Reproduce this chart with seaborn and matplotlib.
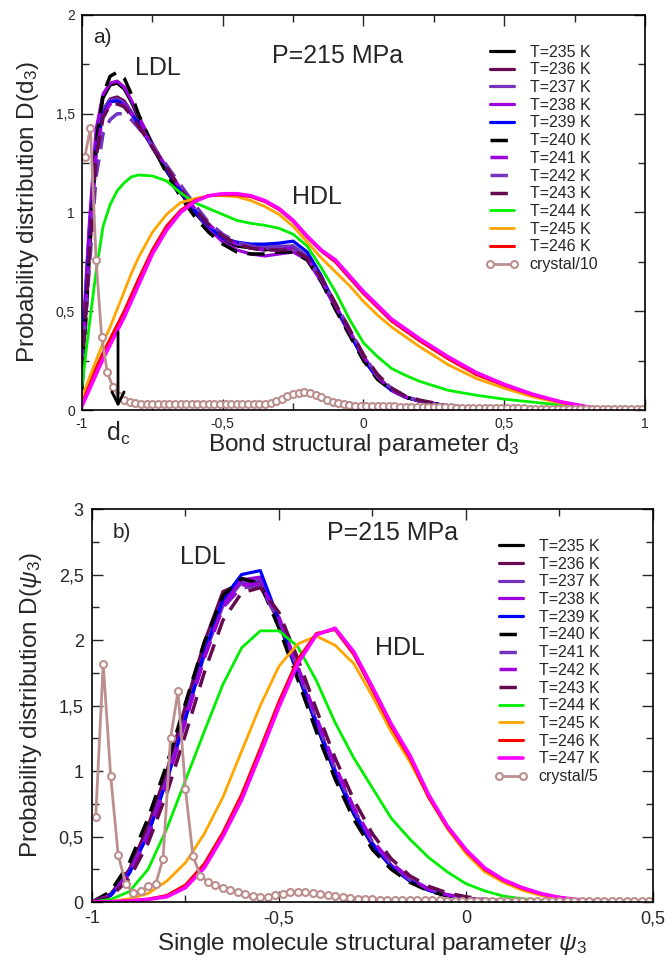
# Bond / single-molecule structural parameter distributions at P=215 MPa
import numpy as np
import matplotlib
matplotlib.use('Agg')
import matplotlib.pyplot as plt
from matplotlib.ticker import MultipleLocator, FuncFormatter
import seaborn as sns

# ---------------- panel a) : D(d3) ----------------
xa = [-1, -0.975, -0.95, -0.925, -0.9, -0.875, -0.85, -0.825, -0.8, -0.75, -0.7, -0.65,
      -0.6, -0.55, -0.5, -0.45, -0.4, -0.35, -0.3, -0.25, -0.2, -0.15, -0.1, -0.05,
      0, 0.05, 0.1, 0.15, 0.2, 0.3, 0.4, 0.5, 0.6, 0.7, 0.8, 0.9, 1.0]
a_235 = [0.25, 0.88, 1.38, 1.58, 1.645, 1.655, 1.625, 1.56, 1.48, 1.33, 1.21, 1.10, 1.00, 0.92, 0.86, 0.83, 0.82, 0.81, 0.82, 0.83, 0.77, 0.66, 0.52, 0.39, 0.26, 0.16, 0.10, 0.065, 0.045, 0.02, 0.01, 0.005, 0.002, 0.001, 0, 0, 0]
a_236 = [0.22, 0.82, 1.32, 1.52, 1.575, 1.585, 1.565, 1.51, 1.45, 1.33, 1.22, 1.11, 1.01, 0.93, 0.87, 0.84, 0.83, 0.82, 0.82, 0.82, 0.77, 0.66, 0.53, 0.40, 0.27, 0.17, 0.10, 0.065, 0.045, 0.02, 0.01, 0.005, 0.002, 0.001, 0, 0, 0]
a_237 = [0.24, 0.84, 1.33, 1.52, 1.57, 1.575, 1.555, 1.51, 1.45, 1.33, 1.22, 1.11, 1.01, 0.93, 0.87, 0.84, 0.83, 0.83, 0.83, 0.83, 0.78, 0.66, 0.52, 0.39, 0.26, 0.16, 0.10, 0.065, 0.045, 0.02, 0.01, 0.005, 0.002, 0.001, 0, 0, 0]
a_238 = [0.30, 0.92, 1.42, 1.60, 1.655, 1.665, 1.635, 1.57, 1.49, 1.35, 1.22, 1.11, 1.01, 0.92, 0.85, 0.81, 0.79, 0.78, 0.79, 0.80, 0.76, 0.65, 0.52, 0.39, 0.26, 0.16, 0.10, 0.065, 0.045, 0.02, 0.01, 0.005, 0.002, 0.001, 0, 0, 0]
a_239 = [0.24, 0.82, 1.31, 1.50, 1.56, 1.565, 1.545, 1.50, 1.45, 1.33, 1.22, 1.11, 1.01, 0.93, 0.87, 0.85, 0.84, 0.84, 0.845, 0.855, 0.80, 0.68, 0.53, 0.39, 0.26, 0.16, 0.10, 0.065, 0.045, 0.02, 0.01, 0.005, 0.002, 0.001, 0, 0, 0]
a_240 = [0.10, 0.75, 1.35, 1.60, 1.69, 1.71, 1.68, 1.60, 1.50, 1.34, 1.20, 1.08, 0.98, 0.90, 0.84, 0.80, 0.79, 0.79, 0.80, 0.80, 0.76, 0.65, 0.51, 0.38, 0.25, 0.155, 0.10, 0.065, 0.045, 0.02, 0.01, 0.005, 0.002, 0.001, 0, 0, 0]
a_241 = [0.22, 0.80, 1.30, 1.49, 1.55, 1.56, 1.545, 1.50, 1.45, 1.34, 1.23, 1.12, 1.02, 0.94, 0.88, 0.84, 0.82, 0.81, 0.81, 0.82, 0.77, 0.66, 0.53, 0.40, 0.27, 0.17, 0.10, 0.065, 0.045, 0.02, 0.01, 0.005, 0.002, 0.001, 0, 0, 0]
a_242 = [0.20, 0.70, 1.18, 1.40, 1.47, 1.50, 1.50, 1.47, 1.43, 1.34, 1.24, 1.14, 1.04, 0.95, 0.89, 0.85, 0.83, 0.82, 0.82, 0.82, 0.77, 0.67, 0.54, 0.41, 0.28, 0.17, 0.11, 0.07, 0.045, 0.02, 0.01, 0.005, 0.002, 0.001, 0, 0, 0]
a_243 = [0.18, 0.76, 1.28, 1.48, 1.545, 1.55, 1.535, 1.49, 1.44, 1.33, 1.23, 1.12, 1.02, 0.94, 0.88, 0.84, 0.82, 0.81, 0.81, 0.81, 0.77, 0.67, 0.54, 0.41, 0.28, 0.18, 0.11, 0.07, 0.05, 0.022, 0.012, 0.006, 0.003, 0.001, 0, 0, 0]
a_244 = [0.12, 0.42, 0.70, 0.93, 1.04, 1.11, 1.15, 1.18, 1.19, 1.185, 1.16, 1.10, 1.05, 1.02, 0.99, 0.96, 0.945, 0.935, 0.92, 0.89, 0.83, 0.72, 0.60, 0.46, 0.34, 0.27, 0.21, 0.175, 0.145, 0.10, 0.075, 0.055, 0.04, 0.025, 0.01, 0.003, 0]
a_245 = [0.06, 0.16, 0.25, 0.34, 0.42, 0.51, 0.60, 0.69, 0.77, 0.90, 0.99, 1.05, 1.07, 1.085, 1.085, 1.08, 1.06, 1.03, 0.99, 0.93, 0.85, 0.77, 0.70, 0.63, 0.55, 0.48, 0.42, 0.37, 0.32, 0.23, 0.16, 0.11, 0.067, 0.035, 0.012, 0.003, 0]
a_246 = [0.03, 0.12, 0.21, 0.29, 0.36, 0.43, 0.50, 0.58, 0.66, 0.81, 0.93, 1.01, 1.06, 1.085, 1.09, 1.09, 1.08, 1.055, 1.015, 0.955, 0.875, 0.805, 0.75, 0.67, 0.59, 0.52, 0.45, 0.40, 0.35, 0.26, 0.18, 0.125, 0.077, 0.04, 0.014, 0.004, 0]
a_247 = [0.02, 0.10, 0.18, 0.26, 0.33, 0.40, 0.47, 0.55, 0.63, 0.79, 0.91, 1.00, 1.055, 1.085, 1.095, 1.095, 1.085, 1.06, 1.02, 0.96, 0.88, 0.81, 0.76, 0.68, 0.60, 0.53, 0.46, 0.41, 0.36, 0.27, 0.19, 0.13, 0.08, 0.042, 0.015, 0.004, 0]

# crystal/10, bins of 0.02 (centres -0.99 ... 0.99)
xa_cry = [round(-0.99 + 0.02 * i, 2) for i in range(100)]
a_cry = [1.28, 1.43, 0.76, 0.37, 0.19, 0.115, 0.072, 0.05, 0.04, 0.035,
         0.032, 0.03, 0.03, 0.029, 0.029, 0.029, 0.03, 0.03, 0.03, 0.031,
         0.031, 0.032, 0.032, 0.031, 0.03, 0.03, 0.029, 0.029, 0.028, 0.028,
         0.028, 0.028, 0.03, 0.035, 0.045, 0.058, 0.07, 0.08, 0.087, 0.09,
         0.087, 0.078, 0.065, 0.05, 0.04, 0.033, 0.028, 0.025, 0.022, 0.021,
         0.02, 0.02, 0.019, 0.019, 0.018, 0.018, 0.017, 0.017, 0.016, 0.016,
         0.015, 0.015, 0.014, 0.014, 0.013, 0.013, 0.012, 0.012, 0.011, 0.011,
         0.01, 0.01, 0.01, 0.009, 0.009, 0.009, 0.008, 0.008, 0.008, 0.007,
         0.007, 0.007, 0.006, 0.006, 0.006, 0.006, 0.005, 0.005, 0.005, 0.005,
         0.005, 0.004, 0.004, 0.004, 0.004, 0.004, 0.003, 0.003, 0.003, 0.003]
d_c = -0.872

# ---------------- panel b) : D(psi3) ----------------
xb = [round(-1 + 0.05 * i, 2) for i in range(31)]
b_235 = [0.0, 0.06, 0.24, 0.55, 0.95, 1.42, 1.90, 2.28, 2.44, 2.45, 2.13, 1.74, 1.35, 0.98, 0.67, 0.43, 0.27, 0.16, 0.09, 0.05, 0.027, 0.014, 0.007, 0.003, 0.001, 0, 0, 0, 0, 0, 0]
b_236 = [0.0, 0.06, 0.25, 0.58, 1.00, 1.50, 1.98, 2.37, 2.43, 2.41, 2.14, 1.76, 1.37, 1.00, 0.69, 0.44, 0.28, 0.17, 0.095, 0.05, 0.028, 0.015, 0.007, 0.003, 0.001, 0, 0, 0, 0, 0, 0]
b_237 = [0.0, 0.05, 0.22, 0.52, 0.93, 1.40, 1.88, 2.26, 2.44, 2.46, 2.17, 1.78, 1.38, 1.01, 0.70, 0.45, 0.28, 0.17, 0.095, 0.05, 0.028, 0.015, 0.007, 0.003, 0.001, 0, 0, 0, 0, 0, 0]
b_238 = [0.0, 0.05, 0.23, 0.53, 0.94, 1.42, 1.90, 2.29, 2.46, 2.48, 2.16, 1.76, 1.37, 1.00, 0.69, 0.44, 0.28, 0.165, 0.09, 0.05, 0.027, 0.014, 0.007, 0.003, 0.001, 0, 0, 0, 0, 0, 0]
b_239 = [0.0, 0.05, 0.22, 0.52, 0.93, 1.40, 1.90, 2.31, 2.50, 2.53, 2.15, 1.75, 1.36, 0.99, 0.68, 0.44, 0.27, 0.16, 0.09, 0.05, 0.027, 0.014, 0.007, 0.003, 0.001, 0, 0, 0, 0, 0, 0]
b_240 = [0.0, 0.08, 0.30, 0.64, 1.05, 1.52, 1.98, 2.34, 2.47, 2.43, 2.09, 1.70, 1.30, 0.94, 0.63, 0.40, 0.25, 0.15, 0.085, 0.045, 0.025, 0.013, 0.006, 0.003, 0.001, 0, 0, 0, 0, 0, 0]
b_241 = [0.0, 0.05, 0.22, 0.52, 0.93, 1.40, 1.87, 2.25, 2.40, 2.41, 2.15, 1.78, 1.39, 1.02, 0.71, 0.46, 0.29, 0.17, 0.10, 0.055, 0.03, 0.016, 0.008, 0.004, 0.002, 0, 0, 0, 0, 0, 0]
b_242 = [0.0, 0.05, 0.21, 0.50, 0.91, 1.38, 1.86, 2.25, 2.42, 2.43, 2.17, 1.80, 1.41, 1.04, 0.72, 0.47, 0.30, 0.18, 0.10, 0.055, 0.03, 0.016, 0.008, 0.004, 0.002, 0, 0, 0, 0, 0, 0]
b_243 = [0.0, 0.04, 0.18, 0.45, 0.83, 1.28, 1.75, 2.15, 2.36, 2.40, 2.21, 1.86, 1.47, 1.10, 0.78, 0.52, 0.33, 0.20, 0.12, 0.07, 0.04, 0.02, 0.01, 0.005, 0.002, 0.001, 0, 0, 0, 0, 0]
b_244 = [0.0, 0.02, 0.08, 0.25, 0.56, 0.93, 1.30, 1.66, 1.94, 2.07, 2.07, 1.95, 1.69, 1.37, 1.10, 0.87, 0.64, 0.48, 0.34, 0.23, 0.14, 0.085, 0.045, 0.025, 0.012, 0.006, 0.003, 0.001, 0, 0, 0]
b_245 = [0.0, 0.005, 0.025, 0.065, 0.16, 0.30, 0.52, 0.80, 1.15, 1.50, 1.80, 1.97, 2.03, 1.96, 1.82, 1.57, 1.30, 1.07, 0.80, 0.56, 0.37, 0.23, 0.15, 0.09, 0.05, 0.025, 0.012, 0.006, 0.003, 0.001, 0]
b_246 = [0.0, 0.002, 0.009, 0.022, 0.05, 0.13, 0.29, 0.53, 0.82, 1.17, 1.53, 1.85, 2.05, 2.08, 1.89, 1.62, 1.34, 1.10, 0.80, 0.57, 0.39, 0.25, 0.165, 0.105, 0.062, 0.033, 0.017, 0.008, 0.004, 0.002, 0]
b_247 = [0.0, 0.002, 0.008, 0.02, 0.04, 0.11, 0.26, 0.50, 0.78, 1.13, 1.49, 1.82, 2.04, 2.09, 1.91, 1.64, 1.36, 1.12, 0.82, 0.58, 0.40, 0.26, 0.17, 0.11, 0.065, 0.035, 0.018, 0.008, 0.004, 0.002, 0]

# crystal/5, bins of 0.02 (centres -0.99 ... 0.49)
xb_cry = [round(-0.99 + 0.02 * i, 2) for i in range(75)]
b_cry = [0.65, 1.82, 0.96, 0.36, 0.14, 0.07, 0.085, 0.12, 0.135, 0.33,
         1.25, 1.61, 0.86, 0.35, 0.20, 0.155, 0.13, 0.11, 0.09, 0.075,
         0.06, 0.045, 0.035, 0.04, 0.055, 0.065, 0.075, 0.078, 0.075, 0.07,
         0.065, 0.055, 0.045, 0.038, 0.03, 0.025, 0.022, 0.02, 0.019, 0.018,
         0.017, 0.016, 0.015, 0.014, 0.013, 0.012, 0.012, 0.011, 0.011, 0.01,
         0.01, 0.009, 0.009, 0.009, 0.008, 0.008, 0.008, 0.007, 0.007, 0.007,
         0.006, 0.006, 0.006, 0.006, 0.005, 0.005, 0.005, 0.005, 0.005, 0.004,
         0.004, 0.004, 0.004, 0.004, 0.004]

# colours
c_dark = '#650a50'
c_mid = '#7333bf'
c_vio = '#9b00dd'
c_cry = '#bc8f8f'

# (label, values, colour, dashed, linewidth)
series_a = [
    ('T=235 K', a_235, 'black', False, 2.3),
    ('T=236 K', a_236, c_dark, False, 2.3),
    ('T=237 K', a_237, c_mid, False, 2.3),
    ('T=238 K', a_238, c_vio, False, 2.3),
    ('T=239 K', a_239, 'blue', False, 2.3),
    ('T=240 K', a_240, 'black', True, 2.5),
    ('T=241 K', a_241, c_vio, True, 2.5),
    ('T=242 K', a_242, c_mid, True, 2.5),
    ('T=243 K', a_243, c_dark, True, 2.5),
    ('T=244 K', a_244, '#00ee00', False, 2.0),
    ('T=245 K', a_245, 'orange', False, 2.0),
    ('T=246 K', a_246, 'red', False, 2.2),
    ('_nolegend_', a_247, 'magenta', False, 2.6),
]
series_b = [
    ('T=235 K', b_235, 'black', False, 2.3),
    ('T=236 K', b_236, c_dark, False, 2.3),
    ('T=237 K', b_237, c_mid, False, 2.3),
    ('T=238 K', b_238, c_vio, False, 2.3),
    ('T=239 K', b_239, 'blue', False, 2.3),
    ('T=240 K', b_240, 'black', True, 2.5),
    ('T=241 K', b_241, c_mid, True, 2.5),
    ('T=242 K', b_242, c_vio, True, 2.5),
    ('T=243 K', b_243, c_dark, True, 2.5),
    ('T=244 K', b_244, '#00ee00', False, 2.0),
    ('T=245 K', b_245, 'orange', False, 2.0),
    ('T=246 K', b_246, 'red', False, 2.2),
    ('T=247 K', b_247, 'magenta', False, 2.6),
]

sns.set_style('ticks')
plt.rcParams['font.family'] = ['Liberation Sans', 'DejaVu Sans']
plt.rcParams['mathtext.fontset'] = 'custom'
plt.rcParams['mathtext.rm'] = 'Liberation Sans'
plt.rcParams['mathtext.it'] = 'Liberation Sans:italic'

comma = FuncFormatter(lambda v, p: ('%g' % v).replace('.', ','))


def draw_panel(ax, x, series, x_cry, y_cry, cry_label):
    for label, vals, col, dashed, lw in series:
        kw = dict(dashes=(5, 3)) if dashed else {}
        sns.lineplot(x=x, y=vals, ax=ax, color=col, linewidth=lw, label=label,
                     sort=False, legend=False, **kw)
    sns.lineplot(x=x_cry, y=y_cry, ax=ax, color=c_cry, linewidth=2.0, label=cry_label,
                 marker='o', markersize=5, markerfacecolor='white',
                 markeredgecolor=c_cry, markeredgewidth=1.5, sort=False, legend=False)
    for s in ax.spines.values():
        s.set_linewidth(1.2)
        s.set_color('black')
    ax.tick_params(which='both', direction='in', top=True, right=True, width=1)
    ax.tick_params(which='major', length=8)
    ax.tick_params(which='minor', length=5)
    ax.xaxis.set_major_formatter(comma)
    ax.yaxis.set_major_formatter(comma)
    ax.xaxis.set_minor_locator(MultipleLocator(0.25))
    ax.yaxis.set_minor_locator(MultipleLocator(0.25))
    ax.xaxis.set_major_locator(MultipleLocator(0.5))
    ax.yaxis.set_major_locator(MultipleLocator(0.5))


fig = plt.figure(figsize=(6.72, 9.67), dpi=100)

leg_kw = dict(loc='upper left', frameon=False, fontsize=11.5, handlelength=2.1,
              handletextpad=0.7, labelspacing=0.17, borderpad=0, borderaxespad=0,
              numpoints=2)

# panel a
ax1 = fig.add_axes([0.1220, 0.5760, 0.8378, 0.4085])
draw_panel(ax1, xa, series_a, xa_cry, a_cry, 'crystal/10')
ax1.set_xlim(-1, 1)
ax1.set_ylim(0, 2)
ax1.tick_params(which='major', labelsize=10, pad=5)
ax1.set_xlabel('Bond structural parameter d$_3$', fontsize=17.5)
ax1.set_ylabel('Probability distribution D(d$_3$)', fontsize=17.5)
ax1.xaxis.set_label_coords(0.5, -0.055)
ax1.yaxis.set_label_coords(-0.073, 0.5)
ax1.text(0.02, 0.944, 'a)', transform=ax1.transAxes, fontsize=15, va='center')
ax1.text(0.094, 0.866, 'LDL', transform=ax1.transAxes, fontsize=18, va='center')
ax1.text(0.3375, 0.896, 'P=215 MPa', transform=ax1.transAxes, fontsize=18, va='center')
ax1.text(0.373, 0.539, 'HDL', transform=ax1.transAxes, fontsize=18, va='center')
ax1.annotate('', xy=(d_c, 0.0), xytext=(d_c, 0.41),
             arrowprops=dict(arrowstyle='->', lw=2, color='black', mutation_scale=22))
ax1.text(d_c, -0.058, 'd$\\mathregular{_c}$', transform=ax1.get_xaxis_transform(),
         fontsize=18, ha='center', va='center', clip_on=False)
ax1.legend(bbox_to_anchor=(0.716, 0.925), **leg_kw)

# panel b
ax2 = fig.add_axes([0.1369, 0.0672, 0.8348, 0.4064])
draw_panel(ax2, xb, series_b, xb_cry, b_cry, 'crystal/5')
ax2.set_xlim(-1, 0.5)
ax2.set_ylim(0, 3)
ax2.tick_params(which='major', labelsize=13, pad=6)
ax2.set_xlabel('Single molecule structural parameter $\\psi_3$', fontsize=17.5)
ax2.set_ylabel('Probability distribution D($\\psi_3$)', fontsize=17.5)
ax2.xaxis.set_label_coords(0.5, -0.075)
ax2.yaxis.set_label_coords(-0.086, 0.5)
ax2.text(0.037, 0.9415, 'b)', transform=ax2.transAxes, fontsize=15, va='center')
ax2.text(0.157, 0.877, 'LDL', transform=ax2.transAxes, fontsize=18, va='center')
ax2.text(0.419, 0.939, 'P=215 MPa', transform=ax2.transAxes, fontsize=18, va='center')
ax2.text(0.504, 0.646, 'HDL', transform=ax2.transAxes, fontsize=18, va='center')
ax2.legend(bbox_to_anchor=(0.7166, 0.924), **leg_kw)

fig.savefig('out.png', dpi=100)
